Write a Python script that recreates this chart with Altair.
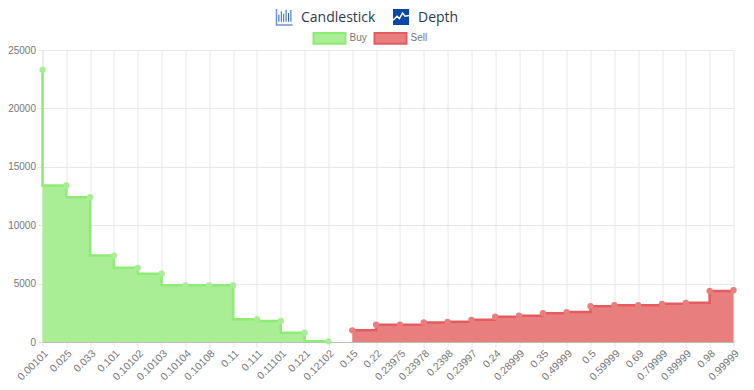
import altair as alt
import pandas as pd

categories = ["0.00101","0.025","0.033","0.101","0.10102","0.10103","0.10104","0.10108","0.11","0.111","0.11101","0.121","0.12102","0.15","0.22","0.23975","0.23978","0.2398","0.23997","0.24","0.28999","0.35","0.49999","0.5","0.59999","0.69","0.79999","0.89999","0.98","0.99999"]
buy_prices = categories[:13]
buy_values = [23300,13400,12400,7400,6350,5850,4850,4850,4850,1950,1800,800,60]
sell_prices = categories[13:]
sell_values = [1000,1480,1480,1680,1730,1900,2160,2245,2470,2560,3070,3155,3155,3265,3350,4375,4430]
series_names = ["Buy","Sell"]
line_colors = ["#8eeb76","#e55c5f"]
fill_colors = ["#a9ed95","#e87e7e"]
header_labels = ["Candlestick","Depth"]
header_pos = [258.5,375.5]

df = pd.DataFrame(
    [{"price":p,"value":v,"side":"Buy"} for p,v in zip(buy_prices,buy_values)]
    +[{"price":p,"value":v,"side":"Sell"} for p,v in zip(sell_prices,sell_values)]
)
buy = alt.Chart(df).transform_filter("datum.side=='Buy'")
sell = alt.Chart(df).transform_filter("datum.side=='Sell'")

x = alt.X("price:N", sort=categories, scale=alt.Scale(type="point",domain=categories,padding=0),
          axis=alt.Axis(title=None,labelAngle=-45,labelAlign="right",labelBaseline="top",labelColor="#777777",
                        labelFont="Liberation Sans",labelFontSize=10.5,labelOverlap=False,labelPadding=1,
                        grid=True,gridColor="#e8e8e8",domainColor="#bdbdbd",tickColor="#e6e6e6",tickSize=5))
y = alt.Y("value:Q", scale=alt.Scale(domain=[0,25000],nice=False),
          axis=alt.Axis(title=None,values=[0,5000,10000,15000,20000,25000],format="d",labelColor="#777777",
                        labelFont="Liberation Sans",labelFontSize=10,labelPadding=2,grid=True,gridColor="#e8e8e8",
                        domainColor="#e6e6e6",tickColor="#e6e6e6",tickSize=5))
legend = alt.Legend(title=None,orient="none",legendX=270,legendY=-29,direction="horizontal",columns=2,
        symbolType="M-1,-0.33H1V0.33H-1Z",symbolSize=1024,symbolStrokeWidth=2,
        labelFont="Liberation Sans",labelFontSize=10,labelColor="#777777",columnPadding=3,labelOffset=3)
fill = alt.Fill("side:N", scale=alt.Scale(domain=series_names,range=fill_colors), legend=legend)
stroke = alt.Stroke("side:N", scale=alt.Scale(domain=series_names,range=line_colors), legend=legend)

def series(base, interp):
    return [
        base.mark_area(interpolate=interp).encode(x=x,y=y,fill=fill),
        base.mark_line(interpolate=interp,strokeWidth=2.5).encode(x=x,y=y,stroke=stroke),
        base.mark_point(filled=True,size=40,opacity=1).encode(x=x,y=y,fill=fill),
    ]

header = alt.Chart(pd.DataFrame({"label":header_labels,"pos":header_pos})).mark_text(
    align="left",baseline="middle",font="Open Sans",fontSize=14,color="#2d3a4f"
).encode(x=alt.X("pos:Q",scale=None),y=alt.value(-32),text="label:N")

icon_axis = alt.Chart(pd.DataFrame({"k":[header_labels[0]]})).mark_point(
    shape="M-1,-1V1H1",size=256,stroke="#6f93d8",strokeWidth=1.5,opacity=1,fill=None
).encode(x=alt.value(242),y=alt.value(-33))
icon_bars = alt.Chart(pd.DataFrame({"k":[header_labels[0]]})).mark_point(
    shape="M-.7,-.3V.6M-.4,-.7V.6M-.1,-.4V.6M.2,-.9V.6M.5,-.5V.6M.8,-.9V.6",
    size=256,stroke="#2c5fb8",strokeWidth=1,opacity=1,fill=None
).encode(x=alt.value(242),y=alt.value(-33))
icon_box = alt.Chart(pd.DataFrame({"k":[header_labels[1]]})).mark_point(
    shape="M-1,-1V1H1V-1Z",size=256,fill="#0a47a9",filled=True,opacity=1
).encode(x=alt.value(358.5),y=alt.value(-33))
icon_wave = alt.Chart(pd.DataFrame({"k":[header_labels[1]]})).mark_point(
    shape="M-1,.4L-.5,-.1L-.2,.2L.2,-.5L.5,-.1L1,-.2",size=256,stroke="#ffffff",strokeWidth=1.5,opacity=1,fill=None
).encode(x=alt.value(358.5),y=alt.value(-33))

chart = alt.layer(*series(buy,"step-before"),*series(sell,"step-after"),header,icon_axis,icon_bars,icon_box,icon_wave).properties(
    width=691,height=292,
    padding={"left":34.5,"top":42,"right":12,"bottom":47},
    autosize=alt.AutoSizeParams(type="none"),
).configure_view(stroke=None)
chart.save("out.html", embed_options={"renderer":"svg","actions":False})
